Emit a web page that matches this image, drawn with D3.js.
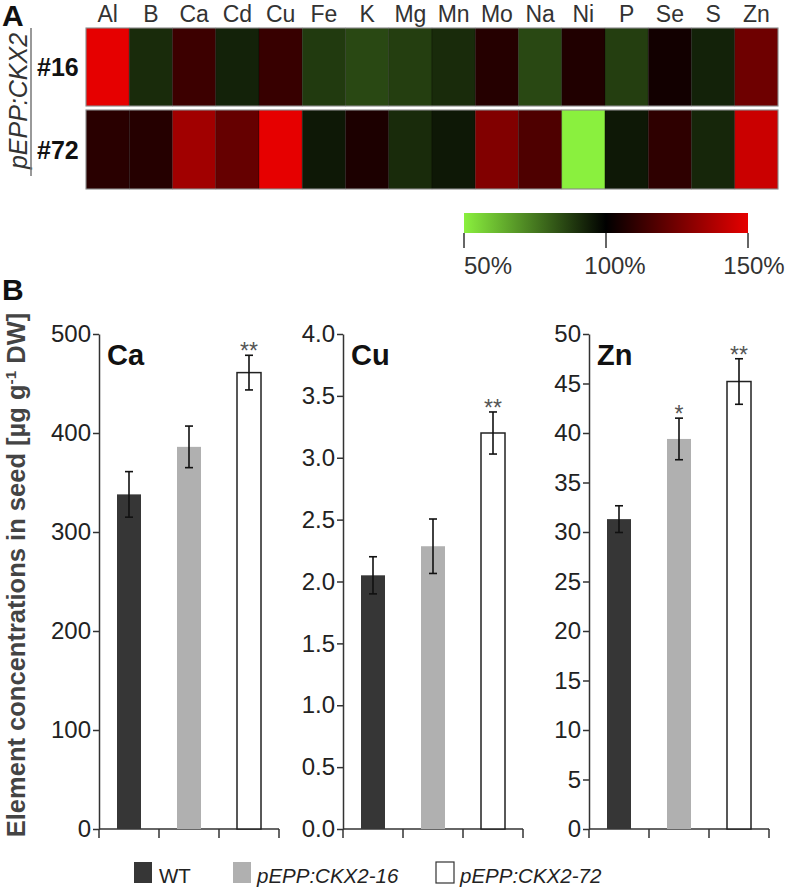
<!DOCTYPE html>
<html><head><meta charset="utf-8">
<script src="https://cdn.jsdelivr.net/npm/d3@7"></script>
<style>body{margin:0;background:#fff}svg{display:block;font-family:"Liberation Sans",Arial,sans-serif}</style>
</head><body>
<script>
// ---- Data ----
const elements = ["Al","B","Ca","Cd","Cu","Fe","K","Mg","Mn","Mo","Na","Ni","P","Se","S","Zn"];
const lines = ["#16","#72"];
const pct16 = [150,91,113,93,112,88,85,87,91,108,85,107,87,104,93,124];
const pct72 = [109,108,135,122,150,95,106,91,95,128,117,50,95,110,92,144];
const legendTicks = [50,100,150];

const groups = ["WT","pEPP:CKX2-16","pEPP:CKX2-72"];
const panelNames = ["Ca","Cu","Zn"];
const caMean = [338,386,461], caErr = [23,21,17.5];
const cuMean = [2.05,2.285,3.20], cuErr = [0.15,0.22,0.17];
const znMean = [31.3,39.4,45.2], znErr = [1.35,2.1,2.3];
const caTicks = [0,100,200,300,400,500];
const cuTicks = [0,0.5,1.0,1.5,2.0,2.5,3.0,3.5,4.0];
const znTicks = [0,5,10,15,20,25,30,35,40,45,50];
const caStars = ["","","**"], cuStars = ["","","**"], znStars = ["","*","**"];

const W = 789, H = 887;
const svg = d3.select("body").append("svg").attr("width",W).attr("height",H);

// ---- Panel A: heatmap ----
const color = d3.scaleLinear().domain([50,100,150]).range(["#8af03e","#000000","#e60000"]).clamp(true);
const hx = d3.scaleBand().domain(elements).range([86,778]);
const rowY = {"#16":[28,106],"#72":[110,189]};
const rowsData = {"#16":pct16,"#72":pct72};

svg.append("text").attr("x",2).attr("y",26).attr("font-size",30).attr("font-weight","bold").attr("fill","#111").text("A");

svg.selectAll("text.col").data(elements).join("text").attr("class","col")
  .attr("x",d=>hx(d)+hx.bandwidth()/2).attr("y",22).attr("text-anchor","middle")
  .attr("font-size",23).attr("fill","#333").text(d=>d);

lines.forEach(l=>{
  const [y0,y1] = rowY[l];
  const g = svg.append("g");
  g.selectAll("rect").data(elements).join("rect")
    .attr("x",d=>hx(d)).attr("y",y0).attr("width",hx.bandwidth()).attr("height",y1-y0)
    .attr("fill",(d,i)=>color(rowsData[l][i]))
    .attr("stroke","rgba(0,0,0,0.3)").attr("stroke-width",0.8);
  g.append("rect").attr("x",86).attr("y",y0).attr("width",692).attr("height",y1-y0)
    .attr("fill","none").attr("stroke","#999").attr("stroke-width",1);
  svg.append("text").attr("x",37).attr("y",(y0+y1)/2+9).attr("font-size",25).attr("font-weight","bold")
    .attr("fill","#111").text(l);
});

svg.append("text").attr("transform","translate(27,101) rotate(-90)").attr("text-anchor","middle")
  .attr("font-size",25).attr("font-style","italic").attr("fill","#333").text("pEPP:CKX2");
svg.append("line").attr("x1",31).attr("x2",31).attr("y1",28).attr("y2",176).attr("stroke","#777").attr("stroke-width",1.5);

// color legend
const defs = svg.append("defs");
const grad = defs.append("linearGradient").attr("id","hg");
[0,0.25,0.5,0.75,1].forEach(t=>{
  grad.append("stop").attr("offset",t).attr("stop-color",color(50+100*t));
});
const lx = d3.scaleLinear().domain([50,150]).range([464,748]);
svg.append("rect").attr("x",lx(50)).attr("y",213).attr("width",lx(150)-lx(50)).attr("height",20).attr("fill","url(#hg)");
svg.selectAll("line.lt").data(legendTicks).join("line").attr("class","lt")
  .attr("x1",d=>lx(d)).attr("x2",d=>lx(d)).attr("y1",233).attr("y2",248).attr("stroke","#333").attr("stroke-width",1.5);
svg.selectAll("text.lt").data(legendTicks).join("text").attr("class","lt")
  .attr("x",(d,i)=>i===0?lx(d):(i===1?lx(d)+9:lx(d)+6)).attr("y",274)
  .attr("text-anchor",(d,i)=>i===0?"start":"middle").attr("font-size",24).attr("fill","#333").text(d=>d+"%");

// ---- Panel B ----
svg.append("text").attr("x",2).attr("y",300).attr("font-size",30).attr("font-weight","bold").attr("fill","#111").text("B");

const yT = svg.append("text").attr("transform","translate(25,575) rotate(-90)").attr("text-anchor","middle")
  .attr("font-weight","bold").attr("fill","#444").attr("font-size",20);
yT.append("tspan").text("Element concentrations in seed [µg g");
yT.append("tspan").attr("font-size",12).attr("dy",-9).text("-1");
yT.append("tspan").attr("dy",9).text(" DW]");
const tl = yT.node().getComputedTextLength();
yT.attr("font-size",20*525/tl);
yT.select("tspan:nth-child(2)").attr("font-size",12*525/tl);

const fills = ["#363636","#b0b0b0","#ffffff"];
const panels = [
  {name:"Ca",x0:99,mean:caMean,err:caErr,ticks:caTicks,max:500,fmt:d3.format("d"),stars:caStars},
  {name:"Cu",x0:343,mean:cuMean,err:cuErr,ticks:cuTicks,max:4,fmt:d3.format(".1f"),stars:cuStars},
  {name:"Zn",x0:589,mean:znMean,err:znErr,ticks:znTicks,max:50,fmt:d3.format("d"),stars:znStars}
];
const yBottom = 829, yTop = 334;
panels.forEach(p=>{
  const y = d3.scaleLinear().domain([0,p.max]).range([yBottom,yTop]);
  const x = d3.scaleBand().domain(groups).range([p.x0,p.x0+180]);
  const g = svg.append("g");
  const ya = g.append("g").attr("transform",`translate(${p.x0},0)`)
    .call(d3.axisLeft(y).tickValues(p.ticks).tickFormat(p.fmt).tickSize(6).tickPadding(2).tickSizeOuter(0));
  ya.select(".domain").attr("stroke","#333").attr("stroke-width",1.5);
  ya.selectAll(".tick line").attr("stroke","#333").attr("stroke-width",1.5);
  ya.selectAll(".tick text").attr("font-size",24).attr("fill","#222").attr("font-family","Liberation Sans, Arial, sans-serif");
  // x axis
  const xa = g.append("g").attr("transform",`translate(0,${yBottom})`);
  xa.append("line").attr("x1",p.x0).attr("x2",p.x0+180).attr("stroke","#333").attr("stroke-width",1.5);
  xa.selectAll("line.xt").data([0,1,2,3]).join("line").attr("class","xt")
    .attr("x1",i=>p.x0+i*x.step()).attr("x2",i=>p.x0+i*x.step()).attr("y1",0).attr("y2",9)
    .attr("stroke","#333").attr("stroke-width",1.5);
  const bw = 24;
  groups.forEach((gname,i)=>{
    const cx = x(gname)+x.bandwidth()/2;
    g.append("rect").attr("x",cx-bw/2).attr("y",y(p.mean[i])).attr("width",bw).attr("height",yBottom-y(p.mean[i]))
      .attr("fill",fills[i]).attr("stroke",i===2?"#222":"none").attr("stroke-width",1.5);
    const t = y(p.mean[i]+p.err[i]), b = y(p.mean[i]-p.err[i]);
    g.append("line").attr("x1",cx).attr("x2",cx).attr("y1",t).attr("y2",b).attr("stroke","#111").attr("stroke-width",1.6);
    [t,b].forEach(v=>g.append("line").attr("x1",cx-4).attr("x2",cx+4).attr("y1",v).attr("y2",v).attr("stroke","#111").attr("stroke-width",1.6));
    if(p.stars[i]) g.append("text").attr("x",cx).attr("y",t+4).attr("text-anchor","middle")
      .attr("font-size",23).attr("fill","#555").text(p.stars[i]);
  });
  g.append("text").attr("x",p.x0+8).attr("y",365).attr("font-size",29).attr("font-weight","bold").attr("fill","#111").text(p.name);
});

// legend
const legX = [[134,159],[233,257],[436,460]];
groups.forEach((gname,i)=>{
  svg.append("rect").attr("x",legX[i][0]).attr("y",862).attr("width",18).attr("height",21)
    .attr("fill",fills[i]).attr("stroke",i===2?"#333":"none").attr("stroke-width",1.2);
  svg.append("text").attr("x",legX[i][1]).attr("y",883).attr("font-size",20.5).attr("fill","#222")
    .attr("font-style",i===0?"normal":"italic").text(gname);
});
</script>
</body></html>
